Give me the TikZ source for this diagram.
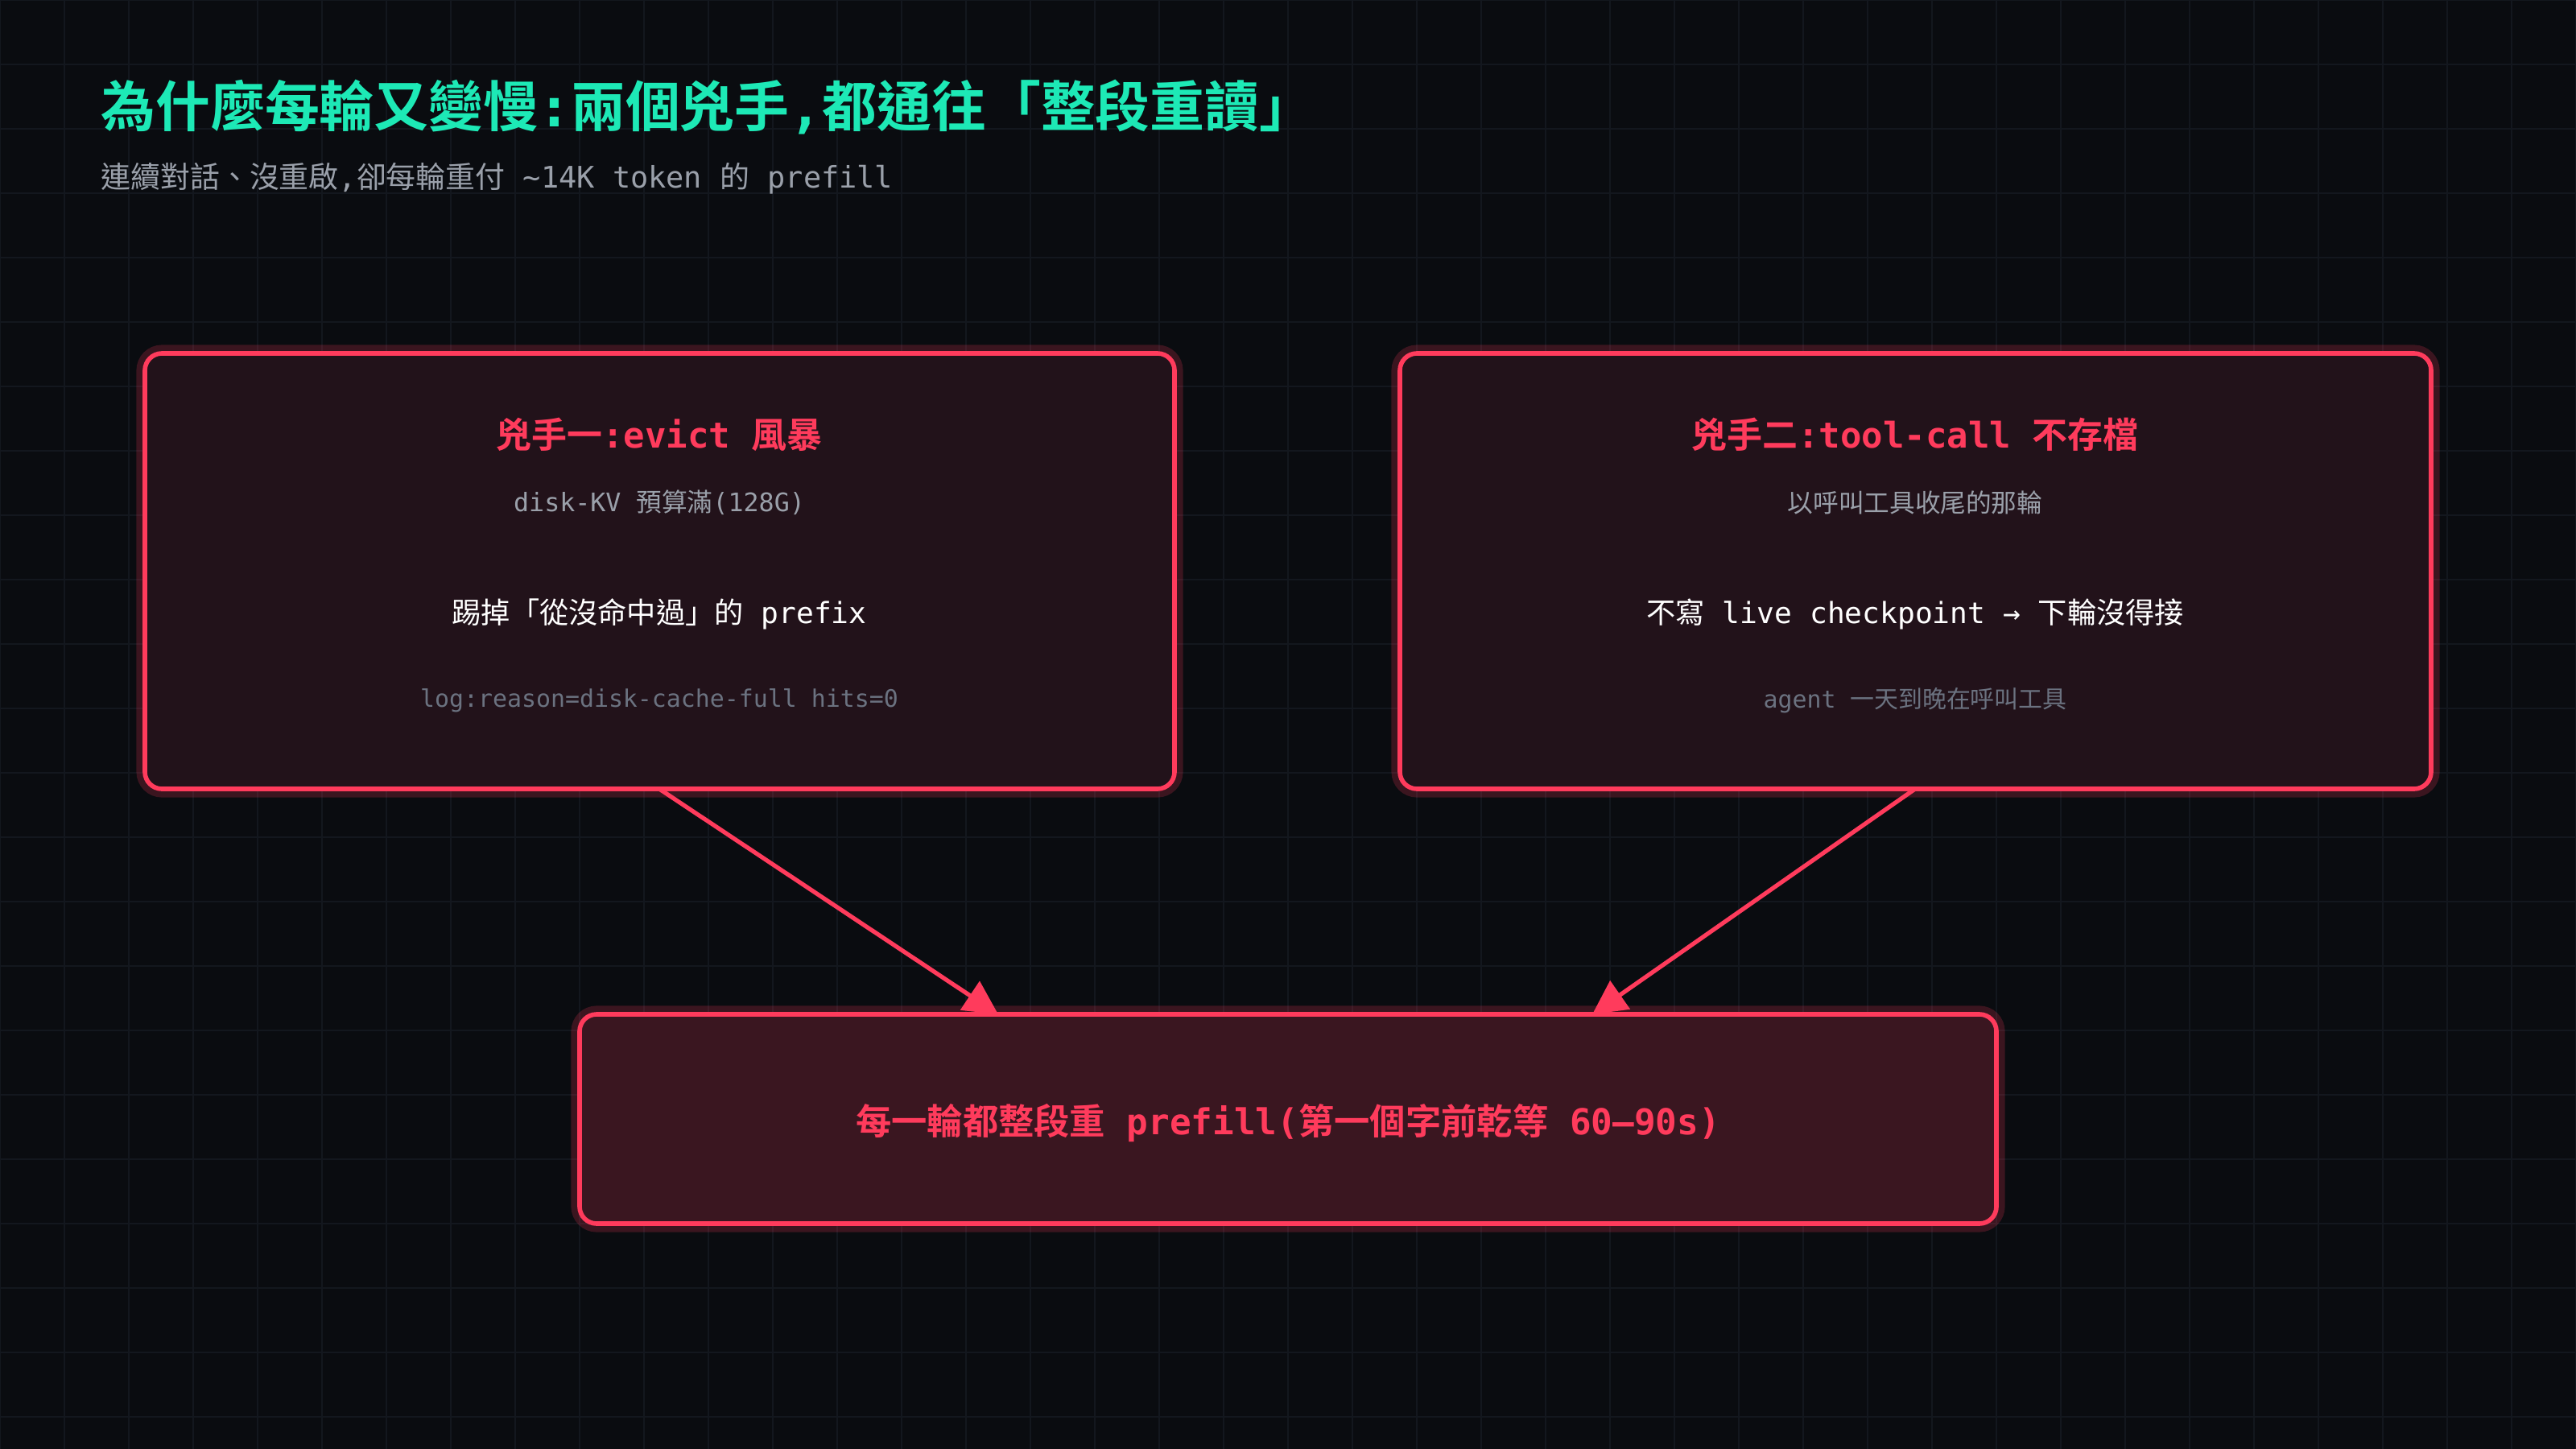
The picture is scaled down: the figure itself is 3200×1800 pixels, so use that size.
\documentclass[tikz,border=0pt]{standalone}
\usepackage{fontspec}
\setmainfont{DejaVu Sans Mono}
\newfontfamily\cjkfont{Noto Sans CJK TC}[BoldFont={Noto Sans CJK TC Bold}]
% automatic switch to the CJK font
\XeTeXinterchartokenstate=1
\newXeTeXintercharclass\cjkclass
\newcount\cc
\cc="3000 \loop\XeTeXcharclass\cc=\cjkclass \advance\cc by 1 \ifnum\cc<"3040 \repeat
\cc="4E00 \loop\XeTeXcharclass\cc=\cjkclass \advance\cc by 1 \ifnum\cc<"A000 \repeat
\cc="FF00 \loop\XeTeXcharclass\cc=\cjkclass \advance\cc by 1 \ifnum\cc<"FFF0 \repeat
\XeTeXinterchartoks 0 \cjkclass = {\begingroup\cjkfont}
\XeTeXinterchartoks 4095 \cjkclass = {\begingroup\cjkfont}
\XeTeXinterchartoks \cjkclass 0 = {\endgroup}
\XeTeXinterchartoks \cjkclass 4095 = {\endgroup}
\usetikzlibrary{arrows.meta}
\definecolor{bgcol}{HTML}{0A0C10}
\definecolor{gridcol}{HTML}{13171E}
\definecolor{teal}{HTML}{1DE9B6}
\definecolor{greytxt}{HTML}{9AA0AA}
\definecolor{dimtxt}{HTML}{6B7280}
\definecolor{hot}{HTML}{FF3B5C}
\definecolor{boxfill}{HTML}{22121A}
\definecolor{endfill}{HTML}{3A1620}
\tikzset{
  culprit/.style={draw=hot, fill=boxfill, line width=1.6pt, rounded corners=6pt},
  glow/.style={draw=hot, draw opacity=0.2, line width=6pt, rounded corners=6pt},
  arrow/.style={draw=hot, line width=1.5pt, -{Triangle[length=12pt,width=12pt]}}
}
\begin{document}
\begin{tikzpicture}[x=0.01cm, y=-0.01cm]
  \fill[bgcol] (0,0) rectangle (3200,1800);
  \useasboundingbox (0,0) rectangle (3200,1800);
  \foreach \gx in {0,80,...,3200} \draw[gridcol, line width=0.4pt] (\gx,0) -- (\gx,1800);
  \foreach \gy in {0,80,...,1800} \draw[gridcol, line width=0.4pt] (0,\gy) -- (3200,\gy);

  %Title
  \node[anchor=west, text=teal, font=\bfseries\fontsize{19.3}{23}\selectfont] (title) at (113,133) {為什麼每輪又變慢:兩個兇手,都通往「整段重讀」};
  \node[anchor=west, text=greytxt, font=\fontsize{10.5}{13}\selectfont] (subtitle) at (113,222) {連續對話、沒重啟,卻每輪重付 \textasciitilde14K token 的 prefill};

  %Culprit boxes
  \draw[glow] (180,439) rectangle (1459,980);
  \draw[culprit] (180,439) rectangle (1459,980);
  \coordinate (one) at (819,980);
  \draw[glow] (1739,439) rectangle (3020,980);
  \draw[culprit] (1739,439) rectangle (3020,980);
  \coordinate (two) at (2379,980);

  \node[text=hot, font=\bfseries\fontsize{12.5}{15}\selectfont] (oneT) at (819,540) {兇手一:evict 風暴};
  \node[text=greytxt, font=\fontsize{9}{11}\selectfont] (oneS) at (819,624) {disk-KV 預算滿(128G)};
  \node[text=white, font=\fontsize{10.3}{13}\selectfont] (oneM) at (819,763) {踢掉「從沒命中過」的 prefix};
  \node[text=dimtxt, font=\fontsize{8.5}{10}\selectfont] (oneL) at (819,870) {log:reason=disk-cache-full hits=0};

  \node[text=hot, font=\bfseries\fontsize{12.5}{15}\selectfont] (twoT) at (2379,540) {兇手二:tool-call 不存檔};
  \node[text=greytxt, font=\fontsize{9}{11}\selectfont] (twoS) at (2379,624) {以呼叫工具收尾的那輪};
  \node[text=white, font=\fontsize{10.3}{13}\selectfont] (twoM) at (2379,763) {不寫 live checkpoint → 下輪沒得接};
  \node[text=dimtxt, font=\fontsize{8.5}{10}\selectfont] (twoL) at (2379,870) {agent 一天到晚在呼叫工具};

  %Result box
  \draw[glow] (720,1260) rectangle (2480,1520);
  \draw[culprit, fill=endfill] (720,1260) rectangle (2480,1520);
  \node[text=hot, font=\bfseries\fontsize{12.6}{16}\selectfont] (res) at (1600,1395) {每一輪都整段重 prefill(第一個字前乾等 60–90s)};
  \coordinate (inL) at (1240,1260);
  \coordinate (inR) at (1978,1260);

  %Arrows
  \draw[arrow] (one) -- (inL);
  \draw[arrow] (two) -- (inR);
\end{tikzpicture}
\end{document}
